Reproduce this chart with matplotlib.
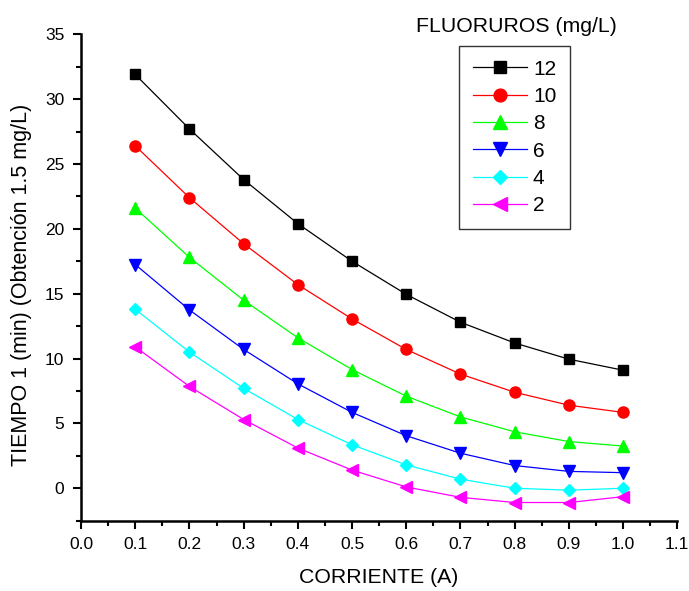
import matplotlib
matplotlib.use("Agg")
import matplotlib.pyplot as plt
from matplotlib.ticker import MultipleLocator

plt.rcParams['font.family'] = ['Liberation Sans', 'DejaVu Sans']

corriente = [0.1, 0.2, 0.3, 0.4, 0.5, 0.6, 0.7, 0.8, 0.9, 1.0]
labels = ["12", "10", "8", "6", "4", "2"]
f12 = [31.9, 27.7, 23.8, 20.4, 17.5, 14.95, 12.8, 11.2, 9.95, 9.1]
f10 = [26.4, 22.4, 18.85, 15.7, 13.05, 10.7, 8.8, 7.4, 6.4, 5.85]
f8 = [21.6, 17.8, 14.5, 11.6, 9.15, 7.1, 5.5, 4.35, 3.6, 3.25]
f6 = [17.25, 13.75, 10.7, 8.05, 5.85, 4.05, 2.7, 1.75, 1.3, 1.2]
f4 = [13.8, 10.5, 7.7, 5.3, 3.35, 1.8, 0.7, 0.0, -0.15, 0.0]
f2 = [10.9, 7.85, 5.3, 3.1, 1.4, 0.1, -0.7, -1.1, -1.1, -0.65]
series = [f12, f10, f8, f6, f4, f2]
colors = ["#000000", "#ff0000", "#00ff00", "#0000ff", "#00ffff", "#ff00ff"]
markers = ["s", "o", "^", "v", "D", "<"]
msizes = [7, 8, 8.5, 8.5, 6, 8.5]

fig = plt.figure(figsize=(6.89, 5.91), dpi=100)
ax = fig.add_axes([0.1176, 0.119, 0.8654, 0.823])

for y, c, m, ms, lab in zip(series, colors, markers, msizes, labels):
    ax.plot(corriente, y, color=c, marker=m, markersize=ms, linewidth=0.9,
            markeredgecolor=c, label=lab)

ax.set_xlim(0.0, 1.1)
ax.set_ylim(-2.5, 35)
ax.xaxis.set_minor_locator(MultipleLocator(0.05))
ax.yaxis.set_minor_locator(MultipleLocator(2.5))
ax.set_xticks([i / 10 for i in range(12)])
ax.set_xticklabels([f"{i/10:.1f}" for i in range(12)])
ax.set_yticks(list(range(0, 36, 5)))
ax.tick_params(which='major', direction='out', length=6, width=1.5, labelsize=12.5)
ax.tick_params(axis='y', which='major', pad=6)
ax.tick_params(axis='x', which='major', pad=6)
ax.tick_params(which='minor', direction='out', length=3.5, width=1.5)
for s in ['top', 'right']:
    ax.spines[s].set_visible(False)
for s in ['left', 'bottom']:
    ax.spines[s].set_linewidth(1.8)

ax.set_xlabel("CORRIENTE (A)", fontsize=15.3)
ax.set_ylabel("TIEMPO 1 (min) (Obtención 1.5 mg/L)", fontsize=15.5)
ax.xaxis.set_label_coords(0.5, -0.097)
ax.yaxis.set_label_coords(-0.082, 0.485)

leg = ax.legend(loc='upper left', bbox_to_anchor=(459 / 689, 1 - 46 / 591),
                bbox_transform=fig.transFigure, borderaxespad=0,
                fontsize=15, frameon=True, fancybox=False, edgecolor='black',
                handlelength=2.6, labelspacing=0.4, borderpad=0.65,
                handletextpad=0.3, markerscale=1.15)
leg.get_frame().set_linewidth(1.0)
fig.text(0.749, 0.956, "FLUORUROS (mg/L)", fontsize=15.3, ha='center', va='center')

fig.savefig("out.png", dpi=100)
